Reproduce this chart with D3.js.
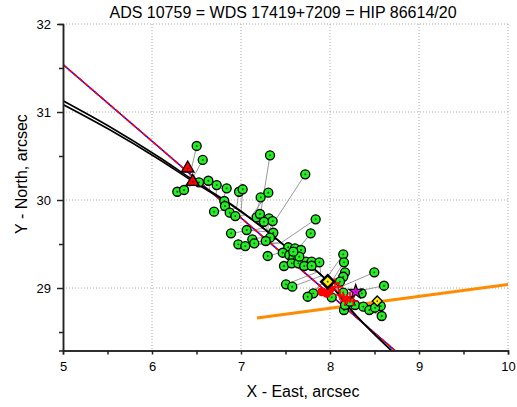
<!DOCTYPE html>
<html lang="en">
<meta charset="utf-8">

<head>
    <title>ADS 10759 orbit</title>
    <script src="https://cdn.jsdelivr.net/npm/d3@7"></script>
    <style>
        body {
            margin: 0;
            background: #fff;
            font-family: "Liberation Sans", Arial, sans-serif;
        }
        .grid line {
            stroke: #aaa;
            stroke-width: 1;
            stroke-dasharray: 1, 2;
        }
        .axis path, .axis line {
            stroke: #222;
            stroke-width: 1.5;
        }
        .axis text {
            font-size: 13px;
            fill: #000;
        }
    </style>
</head>

<body>
<script>
    // observations (arcsec)
    const obsX = [6.502, 6.570, 7.326, 7.722, 6.284, 6.360, 6.528, 6.633, 6.727, 6.839,
        6.978, 7.019, 7.307, 7.221, 6.812, 6.820, 6.697, 6.873, 6.936, 7.176,
        7.213, 7.315, 7.356, 7.258, 7.839, 6.888, 7.064, 7.363, 7.326, 7.278,
        7.783, 7.127, 7.149, 6.970, 7.048, 7.300, 7.531, 7.607, 7.674, 7.469,
        7.543, 7.588, 7.663, 7.730, 7.794, 7.880, 7.483, 7.570, 7.644, 7.711,
        7.794, 7.655, 7.588, 8.149, 8.157, 8.169, 8.498, 8.149, 8.112, 7.506,
        7.576, 8.607, 8.356, 8.149, 7.812, 7.749, 8.019, 8.570, 8.157, 8.169,
        8.281, 8.374, 8.442, 8.506, 8.581, 8.225];
    const obsY = [30.614, 30.455, 30.508, 30.292, 30.094, 30.114, 30.201, 30.219, 30.170, 30.133,
        30.094, 30.122, 30.083, 30.031, 29.989, 29.932, 29.867, 29.856, 29.818, 29.803,
        29.841, 29.792, 29.761, 29.753, 29.781, 29.622, 29.659, 29.628, 29.572, 29.534,
        29.622, 29.553, 29.508, 29.497, 29.477, 29.364, 29.463, 29.451, 29.432, 29.401,
        29.375, 29.338, 29.318, 29.299, 29.299, 29.292, 29.250, 29.281, 29.281, 29.250,
        29.253, 29.356, 29.413, 29.383, 29.292, 29.178, 29.178, 29.128, 29.072, 29.042,
        29.015, 29.026, 28.940, 28.947, 28.940, 28.901, 28.894, 28.795, 28.750, 28.807,
        28.807, 28.788, 28.750, 28.776, 28.682, 28.844];
    // x of the predicted position on the orbit for each observation
    const ephemX = [6.42, 6.45, 7.20, 7.30, 6.45, 6.50, 6.55, 6.65, 6.72, 6.80,
        6.95, 7.00, 7.10, 7.15, 6.85, 6.88, 6.95, 7.00, 7.05, 7.20,
        7.25, 7.30, 7.35, 7.30, 7.45, 7.25, 7.30, 7.40, 7.40, 7.40,
        7.60, 7.35, 7.45, 7.40, 7.45, 7.55, 7.55, 7.60, 7.65, 7.60,
        7.65, 7.70, 7.75, 7.80, 7.85, 7.90, 7.75, 7.75, 7.80, 7.85,
        7.90, 7.70, 7.65, 7.95, 8.00, 8.00, 8.05, 8.05, 8.05, 7.85,
        7.90, 8.10, 8.10, 8.08, 7.95, 7.95, 8.02, 8.15, 8.12, 8.12,
        8.12, 8.14, 8.15, 8.15, 8.15, 8.12];

    // orbit arcs
    const orbitX = [5, 5.53, 6.09, 6.5, 6.876, 7.2, 7.55, 7.98, 8.22, 8.69];
    const orbitY1 = [31.128, 30.83, 30.48, 30.2, 29.96, 29.72, 29.43, 29.07, 28.77, 28.29];
    const orbitY2 = [31.085, 30.795, 30.455, 30.185, 29.955, 29.72, 29.43, 29.07, 28.77, 28.29];
    const lineRBX = [5, 8.73];
    const lineRBY = [31.54, 28.29];
    const orangeX = [7.18, 10];
    const orangeY = [28.66, 29.04];

    // special markers
    const triX = [6.401, 6.457];
    const triY = [30.360, 30.208];
    const diaX = [7.974, 8.531];
    const diaY = [29.072, 28.852];
    const diaSize = [13, 10];
    const starX = [8.289];
    const starY = [28.958];
    const plusX = [8.056, 8.093, 8.019, 8.112, 8.149, 8.194, 8.225, 8.169, 8.262];
    const plusY = [29.053, 29.011, 28.977, 28.920, 28.901, 28.875, 28.901, 28.852, 28.852];
    const redDotX = [7.907, 7.963, 8.0];
    const redDotY = [28.958, 28.940, 28.989];

    const xMajor = [5, 6, 7, 8, 9, 10];
    const xMinor = [5.5, 6.5, 7.5, 8.5, 9.5];
    const yMajor = [29, 30, 31, 32];
    const yMinor = [28.5, 29.5, 30.5, 31.5];

    const W = 517, H = 407;
    const pLeft = 63, pRight = 508, pTop = 24, pBottom = 350.5;

    const x = d3.scaleLinear().domain([5, 10]).range([pLeft, pRight]);
    const y = d3.scaleLinear().domain([28.29, 32]).range([pBottom, pTop]);

    const svg = d3.select("body").append("svg")
        .attr("width", W)
        .attr("height", H);

    svg.append("defs").append("clipPath").attr("id", "clip")
        .append("rect")
        .attr("x", pLeft).attr("y", pTop)
        .attr("width", pRight - pLeft).attr("height", pBottom - pTop);

    // grid
    const grid = svg.append("g").attr("class", "grid");
    grid.selectAll(".gx").data(xMajor.slice(1)).enter().append("line")
        .attr("x1", d => x(d)).attr("x2", d => x(d))
        .attr("y1", pTop).attr("y2", pBottom);
    grid.selectAll(".gy").data(yMajor).enter().append("line")
        .attr("x1", pLeft).attr("x2", pRight)
        .attr("y1", d => y(d)).attr("y2", d => y(d));

    const plot = svg.append("g").attr("clip-path", "url(#clip)");

    // residual lines to the orbit
    const orbitAt = d3.scaleLinear().domain(orbitX).range(orbitY1);
    plot.selectAll(".res").data(obsX).enter().append("line")
        .attr("x1", (d, i) => x(d))
        .attr("y1", (d, i) => y(obsY[i]))
        .attr("x2", (d, i) => x(ephemX[i]))
        .attr("y2", (d, i) => y(orbitAt(ephemX[i])))
        .attr("stroke", "#999")
        .attr("stroke-width", 1);

    const line = d3.line().curve(d3.curveMonotoneX);

    // blue / red straight line
    const rb = lineRBX.map((d, i) => [x(d), y(lineRBY[i])]);
    plot.append("path").attr("d", d3.line()(rb))
        .attr("fill", "none").attr("stroke", "#0000ff").attr("stroke-width", 1.6);
    plot.append("path").attr("d", d3.line()(rb))
        .attr("fill", "none").attr("stroke", "#ff0000").attr("stroke-width", 1.6)
        .attr("stroke-dasharray", "5,2");

    // black orbit arcs
    [orbitY1, orbitY2].forEach(ys => {
        plot.append("path")
            .attr("d", line(orbitX.map((d, i) => [x(d), y(ys[i])])))
            .attr("fill", "none")
            .attr("stroke", "#000")
            .attr("stroke-width", 1.6);
    });

    // orange line
    plot.append("path")
        .attr("d", d3.line()(orangeX.map((d, i) => [x(d), y(orangeY[i])])))
        .attr("fill", "none")
        .attr("stroke", "#ff8c00")
        .attr("stroke-width", 3);

    // green observations
    const obs = plot.selectAll(".obs").data(obsX).enter().append("g")
        .attr("transform", (d, i) => `translate(${x(d)},${y(obsY[i])})`);
    obs.append("circle").attr("r", 4.5)
        .attr("fill", "#22ee22").attr("stroke", "#000").attr("stroke-width", 1.3);
    obs.append("circle").attr("r", 0.9).attr("fill", "#064006");

    // red triangles
    const tri = plot.selectAll(".tri").data(triX).enter().append("g")
        .attr("transform", (d, i) => `translate(${x(d)},${y(triY[i])})`);
    tri.append("path")
        .attr("d", d3.symbol().type(d3.symbolTriangle).size(70))
        .attr("fill", "#ff0000").attr("stroke", "#000").attr("stroke-width", 1.3);
    tri.append("circle").attr("r", 0.9).attr("fill", "#400");

    // red dots
    plot.selectAll(".rdot").data(redDotX).enter().append("circle")
        .attr("cx", d => x(d))
        .attr("cy", (d, i) => y(redDotY[i]))
        .attr("r", 4.5)
        .attr("fill", "#ff0000");

    // red plus signs
    plot.selectAll(".plus").data(plusX).enter().append("path")
        .attr("transform", (d, i) => `translate(${x(d)},${y(plusY[i])})`)
        .attr("d", "M-5,0H5M0,-5V5")
        .attr("stroke", "#ff0000")
        .attr("stroke-width", 1.6)
        .attr("fill", "none");

    // yellow diamonds
    const dia = plot.selectAll(".dia").data(diaX).enter().append("g")
        .attr("transform", (d, i) => `translate(${x(d)},${y(diaY[i])})`);
    dia.append("path")
        .attr("d", (d, i) => {
            const s = diaSize[i] / 2;
            return `M0,${-s}L${s},0L0,${s}L${-s},0Z`;
        })
        .attr("fill", "#ffee00")
        .attr("stroke", "#000")
        .attr("stroke-width", (d, i) => i === 0 ? 2.5 : 1.3);
    dia.append("circle").attr("r", 0.9).attr("fill", "#333");

    // magenta star
    const star = plot.selectAll(".star").data(starX).enter().append("g")
        .attr("transform", (d, i) => `translate(${x(d)},${y(starY[i])})`);
    star.append("path")
        .attr("d", d3.symbol().type(d3.symbolStar).size(60))
        .attr("fill", "#ff00ff").attr("stroke", "#000").attr("stroke-width", 1.2);
    star.append("circle").attr("r", 0.9).attr("fill", "#400040");

    // axes
    svg.append("g").attr("class", "axis")
        .attr("transform", `translate(0,${pBottom})`)
        .call(d3.axisBottom(x).tickValues(xMinor).tickSize(4).tickFormat(""));
    svg.append("g").attr("class", "axis")
        .attr("transform", `translate(0,${pBottom})`)
        .call(d3.axisBottom(x).tickValues(xMajor).tickSizeInner(4).tickSizeOuter(0).tickPadding(7)
            .tickFormat(d3.format("d")));

    svg.append("g").attr("class", "axis")
        .attr("transform", `translate(${pLeft},0)`)
        .call(d3.axisLeft(y).tickValues(yMinor).tickSize(4).tickFormat(""));
    svg.append("g").attr("class", "axis")
        .attr("transform", `translate(${pLeft},0)`)
        .call(d3.axisLeft(y).tickValues(yMajor).tickSizeInner(6).tickSizeOuter(0).tickPadding(6)
            .tickFormat(d3.format("d")));

    // title and axis labels
    svg.append("text")
        .attr("x", 283).attr("y", 18)
        .attr("text-anchor", "middle")
        .style("font-size", "16px")
        .text("ADS 10759 = WDS 17419+7209 = HIP 86614/20");

    svg.append("text")
        .attr("x", 303).attr("y", 397)
        .attr("text-anchor", "middle")
        .style("font-size", "16px")
        .text("X - East, arcsec");

    svg.append("text")
        .attr("transform", "translate(27,174) rotate(-90)")
        .attr("text-anchor", "middle")
        .style("font-size", "16px")
        .text("Y - North, arcsec");
</script>
</body>

</html>
